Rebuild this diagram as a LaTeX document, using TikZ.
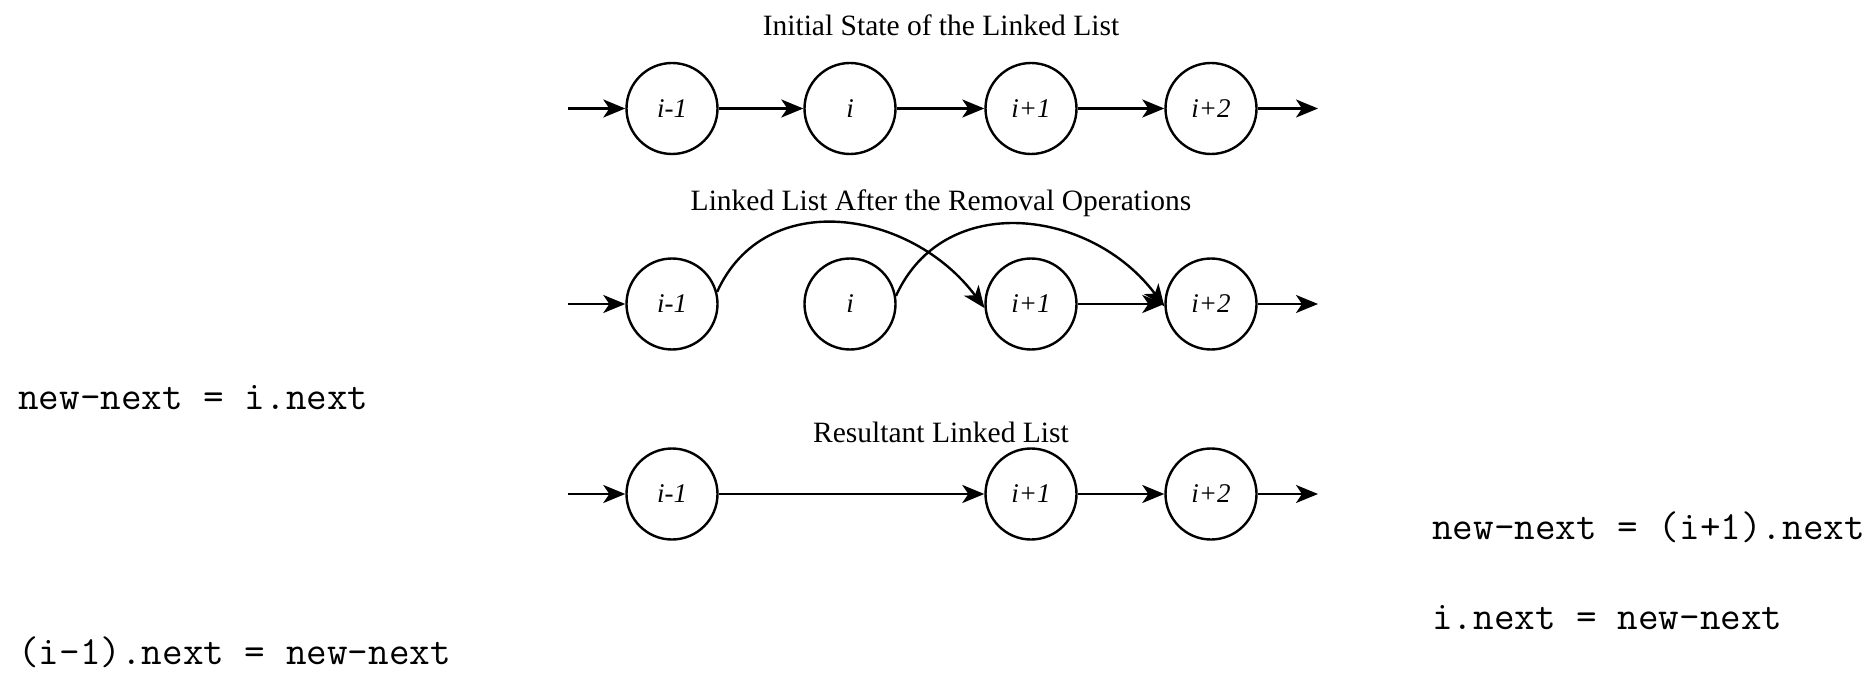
\documentclass[tikz,border=0pt]{standalone}
\usepackage{fontspec}
\setmainfont{Liberation Serif}
\usetikzlibrary{arrows.meta}
\begin{document}
\begin{tikzpicture}[x=1pt,y=1pt,
  ln/.style={circle,draw,line width=2.4pt,minimum size=91pt,inner sep=0pt,font=\fontsize{27}{31}\selectfont\itshape},
  arr/.style={line width=2.4pt,-{Stealth[length=22pt,width=18pt,inset=6pt]}},
  ttl/.style={font=\fontsize{29.5}{34}\selectfont},
  code/.style={anchor=base west,inner sep=0pt,font=\fontsize{40}{47}\selectfont\ttfamily}]
\useasboundingbox (0,0) rectangle (1871,-676);
% Row 1
\node[ttl] (t1) at (941,-25) {Initial State of the Linked List};
\node[ln] (a1) at (672,-108.5) {i-1};
\node[ln] (b1) at (850,-108.5) {i};
\node[ln] (c1) at (1031,-108.5) {i+1};
\node[ln] (d1) at (1211,-108.5) {i+2};
\coordinate (s1) at (568,-108.5);
\coordinate (e1) at (1318,-108.5);
\draw[arr] (s1) -- (a1);
\draw[arr] (a1) -- (b1);
\draw[arr] (b1) -- (c1);
\draw[arr] (c1) -- (d1);
\draw[arr] (d1) -- (e1);
% Row 2
\node[ttl] (t2) at (941,-203) {Linked List After the Removal Operations};
\node[ln] (a2) at (672,-304) {i-1};
\node[ln] (b2) at (850,-304) {i};
\node[ln] (c2) at (1031,-304) {i+1};
\node[ln] (d2) at (1211,-304) {i+2};
\coordinate (s2) at (568,-304);
\coordinate (e2) at (1318,-304);
\draw[arr] (s2) -- (a2);
\draw[arr] (a2.15) .. controls +(48,106) and +(-73,98) .. (c2.185);
\draw[arr] (b2.10) .. controls +(48,106) and +(-73,98) .. (d2.183);
\draw[arr] (c2) -- (d2);
\draw[arr] (d2) -- (e2);
% Row 3
\node[ttl] (t3) at (941,-432) {Resultant Linked List};
\node[ln] (a3) at (672,-494) {i-1};
\node[ln] (c3) at (1031,-494) {i+1};
\node[ln] (d3) at (1211,-494) {i+2};
\coordinate (s3) at (568,-494);
\coordinate (e3) at (1318,-494);
\draw[arr] (s3) -- (a3);
\draw[arr] (a3) -- (c3);
\draw[arr] (c3) -- (d3);
\draw[arr] (d3) -- (e3);
% Code
\node[code] (k1) at (18,-409) {new-next = i.next};
\node[code] (k2) at (18,-664) {(i-1).next = new-next};
\node[code] (k3) at (1432,-539) {new-next = (i+1).next};
\node[code] (k4) at (1432,-629) {i.next = new-next};
\end{tikzpicture}
\end{document}
